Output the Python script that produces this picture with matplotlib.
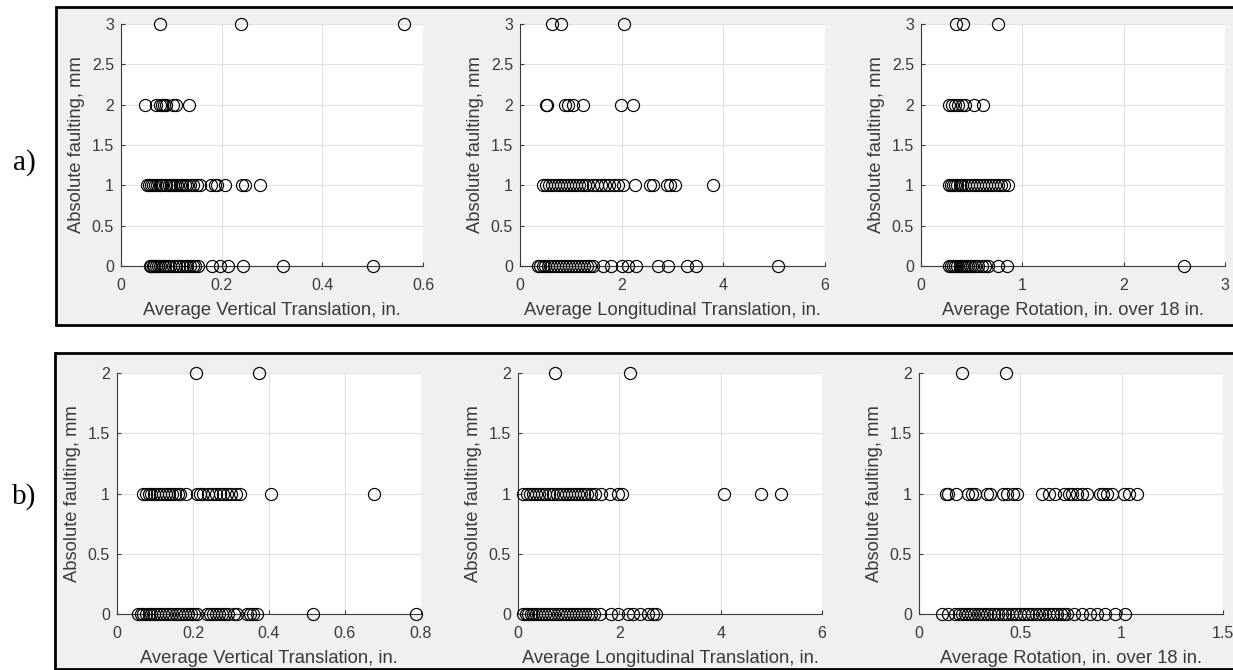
import matplotlib
matplotlib.use("Agg")
import matplotlib.pyplot as plt
from matplotlib.patches import Rectangle

plt.rcParams['font.family'] = ['Liberation Sans', 'DejaVu Sans']

# ---------------- data (a) ----------------
a_levels = [0, 1, 2, 3]
a_vert_0 = [0.057, 0.060, 0.063, 0.066, 0.070, 0.074, 0.078, 0.083, 0.088, 0.093, 0.098, 0.103, 0.110, 0.116,
            0.122, 0.127, 0.132, 0.138, 0.143, 0.148, 0.153, 0.180, 0.196, 0.213, 0.243, 0.322, 0.500]
a_vert_1 = [0.052, 0.056, 0.060, 0.064, 0.068, 0.072, 0.077, 0.082, 0.089, 0.095, 0.100, 0.104, 0.108, 0.112,
            0.117, 0.122, 0.127, 0.132, 0.138, 0.143, 0.150, 0.157, 0.178, 0.186, 0.190, 0.207, 0.240, 0.247, 0.276]
a_vert_2 = [0.048, 0.070, 0.077, 0.081, 0.085, 0.090, 0.104, 0.110, 0.135]
a_vert_3 = [0.077, 0.239, 0.562]

a_long_0 = [0.36, 0.40, 0.45, 0.50, 0.55, 0.60, 0.66, 0.72, 0.78, 0.84, 0.90, 0.96, 1.02, 1.08, 1.14, 1.20,
            1.26, 1.32, 1.38, 1.44, 1.64, 1.79, 2.00, 2.13, 2.28, 2.72, 2.92, 3.28, 3.46, 5.07]
a_long_1 = [0.46, 0.52, 0.58, 0.63, 0.68, 0.74, 0.80, 0.86, 0.92, 0.98, 1.04, 1.10, 1.16, 1.22, 1.28, 1.34,
            1.44, 1.52, 1.60, 1.68, 1.76, 1.84, 1.92, 2.03, 2.26, 2.56, 2.62, 2.90, 2.95, 3.05, 3.80]
a_long_2 = [0.52, 0.54, 0.89, 0.95, 1.05, 1.23, 1.98, 2.23]
a_long_3 = [0.62, 0.80, 2.05]

a_rot_0 = [0.28, 0.30, 0.32, 0.34, 0.36, 0.38, 0.40, 0.42, 0.44, 0.46, 0.48, 0.50, 0.53, 0.56, 0.60, 0.63,
           0.66, 0.76, 0.85, 2.60]
a_rot_1 = [0.28, 0.30, 0.32, 0.34, 0.36, 0.38, 0.40, 0.43, 0.46, 0.49, 0.52, 0.55, 0.58, 0.61, 0.64, 0.67,
           0.70, 0.73, 0.76, 0.79, 0.82, 0.86]
a_rot_2 = [0.28, 0.31, 0.34, 0.37, 0.40, 0.43, 0.52, 0.61]
a_rot_3 = [0.345, 0.418, 0.763]

# ---------------- data (b) ----------------
b_levels = [0, 1, 2]
b_vert_0 = [0.055, 0.062, 0.069, 0.076, 0.083, 0.090, 0.098, 0.106, 0.114, 0.122, 0.130, 0.138, 0.146, 0.154,
            0.162, 0.170, 0.178, 0.186, 0.194, 0.202, 0.210, 0.236, 0.244, 0.252, 0.260, 0.268, 0.276, 0.284,
            0.293, 0.307, 0.315, 0.342, 0.350, 0.358, 0.368, 0.516, 0.787]
b_vert_1 = [0.069, 0.076, 0.083, 0.090, 0.097, 0.104, 0.112, 0.120, 0.128, 0.136, 0.144, 0.152, 0.160, 0.166,
            0.181, 0.211, 0.219, 0.227, 0.240, 0.250, 0.260, 0.270, 0.280, 0.290, 0.300, 0.312, 0.324,
            0.405, 0.677]
b_vert_2 = [0.208, 0.374]

b_long_0 = [0.10, 0.15, 0.20, 0.25, 0.30, 0.36, 0.42, 0.48, 0.54, 0.60, 0.66, 0.72, 0.78, 0.84, 0.90, 0.96,
            1.02, 1.08, 1.14, 1.20, 1.26, 1.32, 1.38, 1.44, 1.50, 1.61, 1.84, 1.97, 2.17, 2.27, 2.40, 2.57,
            2.66, 2.73]
b_long_1 = [0.10, 0.18, 0.24, 0.30, 0.36, 0.42, 0.48, 0.54, 0.62, 0.70, 0.76, 0.82, 0.88, 0.94, 1.00, 1.06,
            1.12, 1.18, 1.24, 1.30, 1.36, 1.44, 1.52, 1.64, 1.81, 1.97, 2.05, 4.07, 4.80, 5.20]
b_long_2 = [0.74, 2.22]

b_rot_0 = [0.112, 0.145, 0.178, 0.195, 0.210, 0.225, 0.240, 0.255, 0.270, 0.290, 0.305, 0.320, 0.335, 0.350,
           0.370, 0.390, 0.410, 0.425, 0.440, 0.460, 0.480, 0.500, 0.520, 0.540, 0.560, 0.575, 0.590, 0.605,
           0.620, 0.640, 0.660, 0.680, 0.700, 0.715, 0.730, 0.763, 0.804, 0.845, 0.878, 0.920, 0.969, 1.018]
b_rot_1 = [0.133, 0.145, 0.183, 0.244, 0.260, 0.277, 0.334, 0.350, 0.413, 0.433, 0.466, 0.483, 0.606, 0.640,
           0.672, 0.713, 0.738, 0.755, 0.780, 0.804, 0.829, 0.895, 0.910, 0.928, 0.952, 1.013, 1.035, 1.076]
b_rot_2 = [0.21, 0.43]

a_xlabels = ["Average Vertical Translation, in.", "Average Longitudinal Translation, in.",
             "Average Rotation, in. over 18 in."]
b_xlabels = a_xlabels
ylabel_text = "Absolute faulting, mm"

a_xticks = [[0, 0.2, 0.4, 0.6], [0, 2, 4, 6], [0, 1, 2, 3]]
a_xticklabels = [["0", "0.2", "0.4", "0.6"], ["0", "2", "4", "6"], ["0", "1", "2", "3"]]
b_xticks = [[0, 0.2, 0.4, 0.6, 0.8], [0, 2, 4, 6], [0, 0.5, 1, 1.5]]
b_xticklabels = [["0", "0.2", "0.4", "0.6", "0.8"], ["0", "2", "4", "6"], ["0", "0.5", "1", "1.5"]]
a_yticks = [0, 0.5, 1, 1.5, 2, 2.5, 3]
a_yticklabels = ["0", "0.5", "1", "1.5", "2", "2.5", "3"]
b_yticks = [0, 0.5, 1, 1.5, 2]
b_yticklabels = ["0", "0.5", "1", "1.5", "2"]

a_series = [[a_vert_0, a_vert_1, a_vert_2, a_vert_3],
            [a_long_0, a_long_1, a_long_2, a_long_3],
            [a_rot_0, a_rot_1, a_rot_2, a_rot_3]]
b_series = [[b_vert_0, b_vert_1, b_vert_2],
            [b_long_0, b_long_1, b_long_2],
            [b_rot_0, b_rot_1, b_rot_2]]

# ---------------- figure ----------------
W, H = 1233, 670
fig = plt.figure(figsize=(W / 100, H / 100), dpi=100, facecolor='white')


def fx(px):
    return px / W


def fy(py):
    return 1 - py / H


# grey framed boxes (behind axes)
for (x0, y0, x1, y1) in [(56, 7, 1240, 325), (55, 353, 1240, 669)]:
    fig.patches.append(Rectangle((fx(x0), fy(y1)), fx(x1 - x0), (y1 - y0) / H,
                                 transform=fig.transFigure, facecolor='#f0f0f0',
                                 edgecolor='black', linewidth=2.0, zorder=-10))

a_axes_px = [(121, 423), (520, 825), (921, 1225)]
b_axes_px = [(117, 421), (518, 822), (919, 1223)]
a_top, a_bot = 24, 266
b_top, b_bot = 373, 614

tick_color = '#3a3a3a'


def make_panel(left, right, top, bot, series, levels, xticks, xtl, yticks, ytl, xlabel):
    ax = fig.add_axes([fx(left), fy(bot), fx(right - left), (bot - top) / H], zorder=1)
    ax.set_facecolor('white')
    for lvl, xs in zip(levels, series):
        ax.plot(xs, [lvl] * len(xs), linestyle='none', marker='o', markersize=8.7,
                markerfacecolor='none', markeredgecolor='black', markeredgewidth=0.85,
                clip_on=False, zorder=3)
    ax.set_xlim(xticks[0], xticks[-1])
    ax.set_ylim(yticks[0], yticks[-1])
    ax.set_xticks(xticks)
    ax.set_xticklabels(xtl)
    ax.set_yticks(yticks)
    ax.set_yticklabels(ytl)
    ax.grid(True, color='#e1e1e1', linewidth=0.8)
    ax.set_axisbelow(True)
    for s in ['top', 'right']:
        ax.spines[s].set_visible(False)
    for s in ['left', 'bottom']:
        ax.spines[s].set_color(tick_color)
        ax.spines[s].set_linewidth(0.8)
    ax.tick_params(direction='in', length=3, width=0.8, color=tick_color,
                   labelcolor=tick_color, labelsize=11.5)
    ax.tick_params(axis='x', pad=9)
    ax.tick_params(axis='y', pad=5)
    ax.set_xlabel(xlabel, fontsize=13.2, color=tick_color, labelpad=6)
    ax.set_ylabel(ylabel_text, fontsize=13.2, color=tick_color, labelpad=5)
    return ax


for (l, r), ser, xt, xtl, xl in zip(a_axes_px, a_series, a_xticks, a_xticklabels, a_xlabels):
    make_panel(l, r, a_top, a_bot, ser, a_levels, xt, xtl, a_yticks, a_yticklabels, xl)

for (l, r), ser, xt, xtl, xl in zip(b_axes_px, b_series, b_xticks, b_xticklabels, b_xlabels):
    make_panel(l, r, b_top, b_bot, ser, b_levels, xt, xtl, b_yticks, b_yticklabels, xl)

fig.text(fx(24), fy(163), "a)", fontsize=21, family=['Liberation Serif', 'DejaVu Serif'],
         ha='center', va='center', color='black', zorder=5)
fig.text(fx(24), fy(497), "b)", fontsize=21, family=['Liberation Serif', 'DejaVu Serif'],
         ha='center', va='center', color='black', zorder=5)

fig.savefig("out.png", dpi=100, facecolor='white')
